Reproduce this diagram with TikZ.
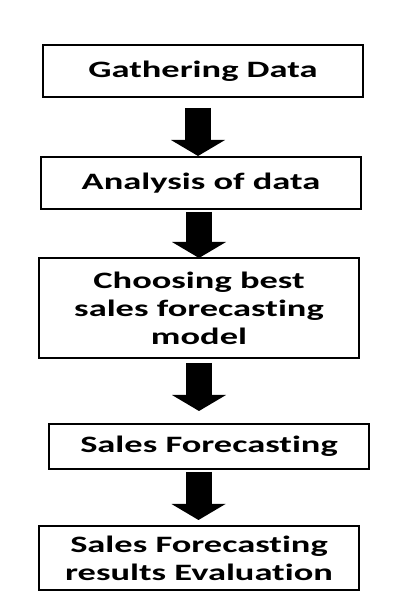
\documentclass[tikz,border=0pt]{standalone}
\usepackage{fontspec}
\newfontfamily\boxfont{Carlito}[FakeStretch=1.55, Ligatures=NoCommon, RawFeature=-liga]
\usetikzlibrary{arrows.meta}
\tikzset{
  stepbox/.style={draw=black, line width=2pt, fill=white, rectangle, minimum width=320pt,
    align=center, inner sep=0pt, font=\boxfont\bfseries\fontsize{23.5}{28}\selectfont},
  bigarrow/.style={line width=26pt, -{Triangle[width=54pt,length=16pt,line width=0pt]}}
}
\begin{document}
\begin{tikzpicture}[x=1pt,y=1pt]
\useasboundingbox (0,0) rectangle (410,601);
\node[stepbox, minimum height=52pt] (b1) at (203,530) {Gathering Data};
\node[stepbox, minimum height=52pt] (b2) at (201,418) {Analysis of data};
\node[stepbox, minimum height=100pt] (b3) at (199,293) {Choosing best\\sales forecasting\\model};
\node[stepbox, minimum height=45pt] (b4) at (209,154.5) {Sales Forecasting};
\node[stepbox, minimum height=64pt] (b5) at (199,43) {Sales Forecasting\\results Evaluation};
\draw[bigarrow] ([xshift=-5pt,yshift=-10pt]b1.south) -- ([xshift=-5pt]b1.south |- b2.north);
\draw[bigarrow] ([xshift=-2pt,yshift=-2pt]b2.south) -- ([xshift=-2pt,yshift=-1pt]b2.south |- b3.north);
\draw[bigarrow] ([yshift=-4pt]b3.south) -- ([yshift=12pt]b3.south |- b4.north);
\draw[bigarrow] ([xshift=-10.5pt,yshift=-2pt]b4.south) -- ([xshift=-10.5pt,yshift=5pt]b4.south |- b5.north);
\end{tikzpicture}
\end{document}
